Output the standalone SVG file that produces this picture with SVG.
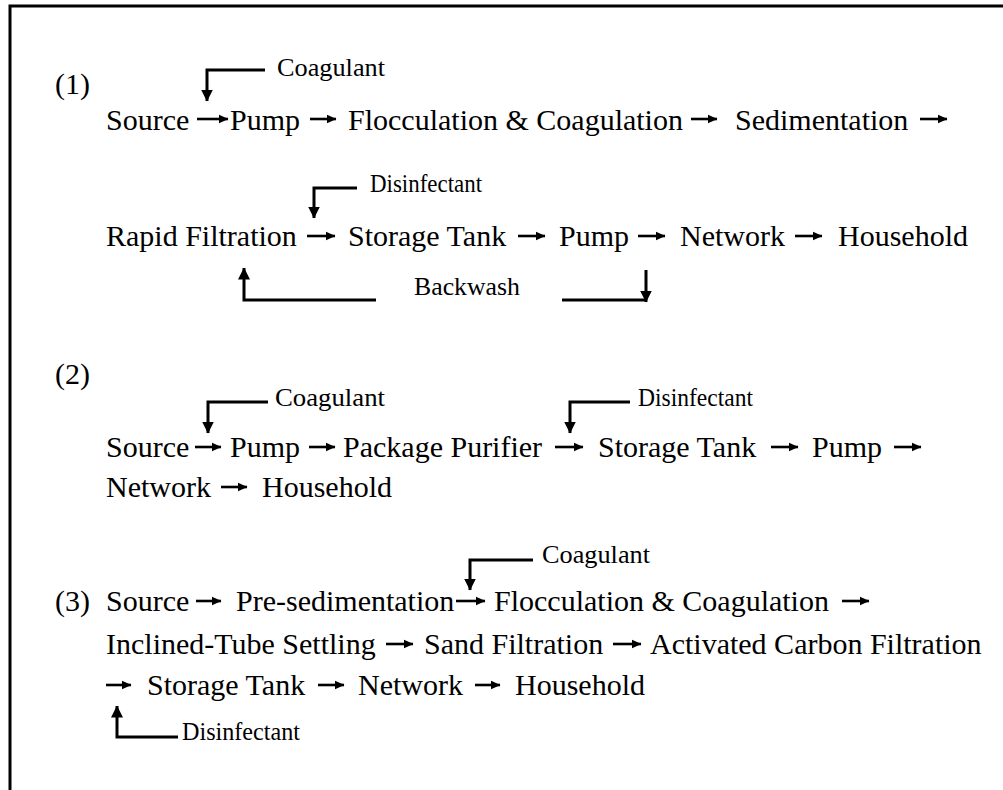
<svg xmlns="http://www.w3.org/2000/svg" width="1003" height="790" viewBox="0 0 1003 790">
  <style>
    .t { font-family: "Liberation Serif", "Times New Roman", serif; font-size: 30px; fill: #000; }
    .l { font-family: "Liberation Serif", "Times New Roman", serif; font-size: 25px; fill: #000; }
    .flow { stroke: #000; stroke-width: 2.6; fill: none; marker-end: url(#h); }
    .feed { stroke: #000; stroke-width: 3; fill: none; marker-end: url(#hb); }
    .frame { stroke: #000; stroke-width: 3; fill: none; }
  </style>
  <defs>
    <marker id="h" markerUnits="userSpaceOnUse" markerWidth="10" markerHeight="10" viewBox="0 0 10 10" refX="9.5" refY="5" orient="auto">
      <path d="M0,0.5 L10,5 L0,9.5 z" fill="#000"/>
    </marker>
    <marker id="hb" markerUnits="userSpaceOnUse" markerWidth="12" markerHeight="12" viewBox="0 0 12 12" refX="11.5" refY="6" orient="auto">
      <path d="M0,0 L12,6 L0,12 z" fill="#000"/>
    </marker>
  </defs>

  <rect width="1003" height="790" fill="#fff"/>
  <!-- outer frame (left and top edges) -->
  <path class="frame" d="M10,790 V6 H1003"/>

  <!-- scheme (1) -->
  <text class="t" x="55" y="94">(1)</text>
  <g id="n1-coagulant"><text class="l" x="277" y="76" textLength="108" lengthAdjust="spacingAndGlyphs">Coagulant</text></g>
  <g id="n1-source"><text class="t" x="106" y="130">Source</text></g>
  <g id="n1-pump"><text class="t" x="230" y="130">Pump</text></g>
  <g id="n1-floc"><text class="t" x="348" y="130">Flocculation &amp; Coagulation</text></g>
  <g id="n1-sed"><text class="t" x="735" y="130">Sedimentation</text></g>
  <g id="n1-disinfectant"><text class="l" x="370" y="192" textLength="112" lengthAdjust="spacingAndGlyphs">Disinfectant</text></g>
  <g id="n1-filter"><text class="t" x="106" y="246">Rapid Filtration</text></g>
  <g id="n1-tank"><text class="t" x="348" y="246">Storage Tank</text></g>
  <g id="n1-pump2"><text class="t" x="559" y="246">Pump</text></g>
  <g id="n1-network"><text class="t" x="680" y="246">Network</text></g>
  <g id="n1-household"><text class="t" x="838" y="246">Household</text></g>
  <g id="n1-backwash"><text class="l" x="414" y="295" textLength="106" lengthAdjust="spacingAndGlyphs">Backwash</text></g>

  <!-- scheme (2) -->
  <text class="t" x="55" y="384">(2)</text>
  <g id="n2-coagulant"><text class="l" x="275" y="406" textLength="110" lengthAdjust="spacingAndGlyphs">Coagulant</text></g>
  <g id="n2-disinfectant"><text class="l" x="638" y="406" textLength="115" lengthAdjust="spacingAndGlyphs">Disinfectant</text></g>
  <g id="n2-source"><text class="t" x="106" y="457">Source</text></g>
  <g id="n2-pump"><text class="t" x="230" y="457">Pump</text></g>
  <g id="n2-purifier"><text class="t" x="343" y="457">Package Purifier</text></g>
  <g id="n2-tank"><text class="t" x="598" y="457">Storage Tank</text></g>
  <g id="n2-pump2"><text class="t" x="812" y="457">Pump</text></g>
  <g id="n2-network"><text class="t" x="106" y="497">Network</text></g>
  <g id="n2-household"><text class="t" x="262" y="497">Household</text></g>

  <!-- scheme (3) -->
  <g id="n3-coagulant"><text class="l" x="542" y="563" textLength="108" lengthAdjust="spacingAndGlyphs">Coagulant</text></g>
  <text class="t" x="55" y="611">(3)</text>
  <g id="n3-source"><text class="t" x="106" y="611">Source</text></g>
  <g id="n3-presed"><text class="t" x="236" y="611">Pre-sedimentation</text></g>
  <g id="n3-floc"><text class="t" x="494" y="611">Flocculation &amp; Coagulation</text></g>
  <g id="n3-tube"><text class="t" x="106" y="654">Inclined-Tube Settling</text></g>
  <g id="n3-sand"><text class="t" x="424" y="654">Sand Filtration</text></g>
  <g id="n3-carbon"><text class="t" x="650" y="654">Activated Carbon Filtration</text></g>
  <g id="n3-tank"><text class="t" x="147" y="695">Storage Tank</text></g>
  <g id="n3-network"><text class="t" x="358" y="695">Network</text></g>
  <g id="n3-household"><text class="t" x="515" y="695">Household</text></g>
  <g id="n3-disinfectant"><text class="l" x="182" y="740" textLength="118" lengthAdjust="spacingAndGlyphs">Disinfectant</text></g>

  <g id="connectors">
    <!-- scheme (1) flow -->
    <line class="flow" x1="197" y1="119" x2="228" y2="119"/>
    <line class="flow" x1="310" y1="119" x2="336" y2="119"/>
    <line class="flow" x1="691" y1="119" x2="717" y2="119"/>
    <line class="flow" x1="920" y1="119" x2="947" y2="119"/>
    <line class="flow" x1="307" y1="236" x2="335" y2="236"/>
    <line class="flow" x1="518" y1="236" x2="545" y2="236"/>
    <line class="flow" x1="638" y1="236" x2="665" y2="236"/>
    <line class="flow" x1="795" y1="236" x2="822" y2="236"/>
    <!-- chemical feeds and backwash -->
    <path class="feed" d="M265,70 H207 V101"/>
    <path class="feed" d="M357,188 H314 V218"/>
    <path class="feed" d="M376,300 H244 V268"/>
    <path class="feed" d="M562,300 H646 M646,270 V302"/>

    <!-- scheme (2) flow -->
    <line class="flow" x1="195" y1="447" x2="221" y2="447"/>
    <line class="flow" x1="309" y1="447" x2="335" y2="447"/>
    <line class="flow" x1="555" y1="447" x2="583" y2="447"/>
    <line class="flow" x1="771" y1="447" x2="798" y2="447"/>
    <line class="flow" x1="894" y1="447" x2="921" y2="447"/>
    <line class="flow" x1="221" y1="487" x2="247" y2="487"/>
    <path class="feed" d="M268,402 H208 V433"/>
    <path class="feed" d="M630,402 H570 V433"/>

    <!-- scheme (3) flow -->
    <line class="flow" x1="196" y1="601" x2="221" y2="601"/>
    <line class="flow" x1="456" y1="601" x2="485" y2="601"/>
    <line class="flow" x1="842" y1="601" x2="869" y2="601"/>
    <line class="flow" x1="386" y1="644" x2="413" y2="644"/>
    <line class="flow" x1="613" y1="644" x2="641" y2="644"/>
    <line class="flow" x1="106" y1="685" x2="131" y2="685"/>
    <line class="flow" x1="318" y1="685" x2="344" y2="685"/>
    <line class="flow" x1="475" y1="685" x2="500" y2="685"/>
    <path class="feed" d="M533,560 H470 V590"/>
    <path class="feed" d="M178,737 H117 V706"/>
  </g>
</svg>
